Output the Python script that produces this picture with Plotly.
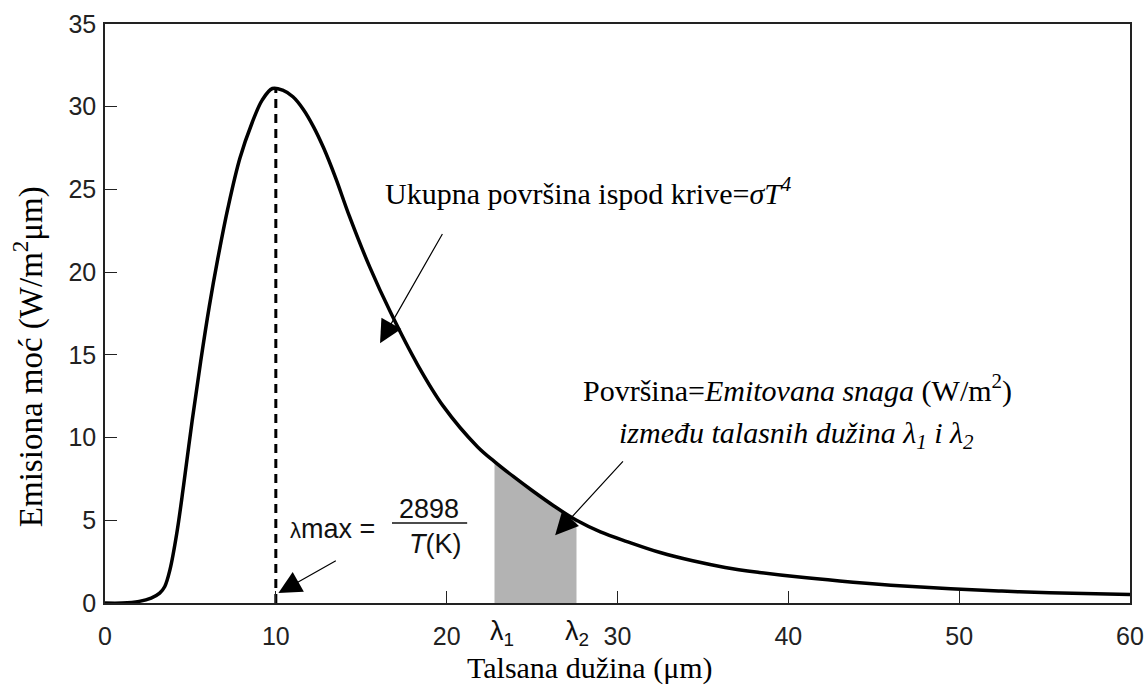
import plotly.graph_objects as go

# --- data ---
wavelength = [0, 1.0, 2.0, 2.7, 3.2, 3.5, 3.8, 4.2, 4.6, 5.1, 5.6, 6.1, 6.6, 7.2, 7.9,
              8.6, 9.2, 9.8, 10.4, 11.0, 11.6, 12.2, 12.8, 13.5, 14.3, 15.5, 16.7,
              18.3, 19.8, 21.8, 22.8, 23.9, 25.0, 26.3, 27.6, 29.0, 30.6, 32.5, 34.4,
              36.3, 38.3, 40.5, 43.0, 46.0, 49.5, 52.5, 55.3, 60.0]
power = [0.0, 0.0, 0.1, 0.3, 0.6, 1.0, 2.0, 4.2, 7.1, 11.0, 14.6, 17.9, 20.8, 23.9, 26.9,
         29.0, 30.4, 31.1, 31.0, 30.6, 29.85, 28.8, 27.5, 25.7, 23.4, 20.3, 17.6,
         14.4, 11.9, 9.45, 8.55, 7.65, 6.8, 5.85, 5.0, 4.3, 3.7, 3.05, 2.55,
         2.15, 1.85, 1.58, 1.33, 1.08, 0.86, 0.72, 0.62, 0.52]
lambda_max = 10.0
peak_value = 31.1
lambda_1 = 22.8
lambda_2 = 27.6
x_ticks = [0, 10, 20, 30, 40, 50, 60]
y_ticks = [0, 5, 10, 15, 20, 25, 30, 35]

SERIF = "Liberation Serif, Times New Roman, serif"
SANS = "Liberation Sans, Arial, Helvetica, sans-serif"

band = [(x, y) for x, y in zip(wavelength, power) if lambda_1 <= x <= lambda_2]
band_x = [lambda_1] + [b[0] for b in band] + [lambda_2]
band_y = [0] + [b[1] for b in band] + [0]

fig = go.Figure()
fig.add_trace(go.Scatter(x=band_x, y=band_y, mode="lines", fill="toself",
                         fillcolor="#b3b3b3", line=dict(width=0, color="#b3b3b3"),
                         hoverinfo="skip", showlegend=False))
fig.add_trace(go.Scatter(x=[lambda_max, lambda_max], y=[0, peak_value], mode="lines",
                         line=dict(color="black", width=3, dash="9px,6px"),
                         showlegend=False, cliponaxis=False))
fig.add_trace(go.Scatter(x=wavelength, y=power, mode="lines",
                         line=dict(color="black", width=3.5, shape="spline", smoothing=1.0),
                         showlegend=False, cliponaxis=False))

ann = []
# arrows
arrow_style = dict(text="", showarrow=True, arrowhead=2, arrowsize=3.8, arrowwidth=1.2,
                   arrowcolor="black", xref="x", yref="y", axref="x", ayref="y", standoff=0)
ann.append(dict(x=16.1, y=15.7, ax=19.8, ay=22.4, **arrow_style))
ann.append(dict(x=26.35, y=4.1, ax=30.4, ay=8.65, **arrow_style))
ann.append(dict(x=10.15, y=0.6, ax=13.6, ay=2.6, **arrow_style))

# texts
ann.append(dict(x=28.3, y=24.9, xref="x", yref="y", showarrow=False,
                text="Ukupna površina ispod krive=<i>σT</i><sup><i>4</i></sup>",
                font=dict(family=SERIF, size=30, color="black")))
ann.append(dict(x=40.55, y=12.95, xref="x", yref="y", showarrow=False,
                text="Površina=<i>Emitovana snaga</i> (W/m<sup>2</sup>)",
                font=dict(family=SERIF, size=30, color="black")))
ann.append(dict(x=40.5, y=10.15, xref="x", yref="y", showarrow=False,
                text="<i>između talasnih dužina λ<sub>1</sub> i λ<sub>2</sub></i>",
                font=dict(family=SERIF, size=30, color="black")))
ann.append(dict(x=13.3, y=4.45, xref="x", yref="y", showarrow=False,
                text="<span style='font-size:22px'>λ</span>max =",
                font=dict(family=SANS, size=27, color="#111")))
ann.append(dict(x=18.97, y=5.7, xref="x", yref="y", showarrow=False,
                text="2898", font=dict(family=SANS, size=27, color="#111")))
ann.append(dict(x=19.35, y=3.55, xref="x", yref="y", showarrow=False,
                text="<i>T</i>(K)", font=dict(family=SANS, size=27, color="#111")))
ann.append(dict(x=lambda_1 + 0.45, y=-0.084, xref="x", yref="paper", showarrow=False,
                text="λ<sub>1</sub>", font=dict(family=SANS, size=27, color="#111")))
ann.append(dict(x=lambda_2 + 0.05, y=-0.084, xref="x", yref="paper", showarrow=False,
                text="λ<sub>2</sub>", font=dict(family=SANS, size=27, color="#111")))
# axis titles
ann.append(dict(x=(590 - 105) / 1025, y=-0.112, xref="paper", yref="paper", showarrow=False,
                text="Talsana dužina (μm)", yanchor="middle",
                font=dict(family=SERIF, size=30, color="black")))
ann.append(dict(x=-0.075, y=(603 - 357) / 579, xref="paper", yref="paper", showarrow=False,
                text="Emisiona moć (W/m<sup>2</sup>μm)", textangle=-90, xanchor="center",
                font=dict(family=SERIF, size=33, color="black")))

fig.update_layout(
    width=1146, height=685,
    margin=dict(l=105, r=16, t=24, b=82),
    paper_bgcolor="white", plot_bgcolor="white",
    annotations=ann,
    shapes=[dict(type="line", xref="x", yref="y", x0=16.8, x1=21.2, y0=4.84, y1=4.84,
                 line=dict(color="#111", width=1.5))],
    showlegend=False,
)
fig.update_xaxes(range=[0, 60], tickvals=x_ticks, ticks="inside", ticklen=12, tickwidth=1.2,
                 tickcolor="#222", showline=True, linecolor="#222", linewidth=1.5, mirror=True,
                 showgrid=False, zeroline=False, ticklabelposition="outside",
                 ticklabelstandoff=10, automargin=False,
                 tickfont=dict(family=SANS, size=25, color="#222"))
fig.update_yaxes(range=[0, 35], tickvals=y_ticks, ticks="inside", ticklen=12, tickwidth=1.2,
                 tickcolor="#222", showline=True, linecolor="#222", linewidth=1.5, mirror=True,
                 showgrid=False, zeroline=False, ticklabelposition="outside",
                 ticklabelstandoff=2, automargin=False,
                 tickfont=dict(family=SANS, size=25, color="#222"))

# remove the default page margin so the 1146x685 figure fills the window exactly
fig.write_html("out.html", config={"displayModeBar": False},
               post_script="document.body.style.margin='0';document.body.style.overflow='hidden';")
